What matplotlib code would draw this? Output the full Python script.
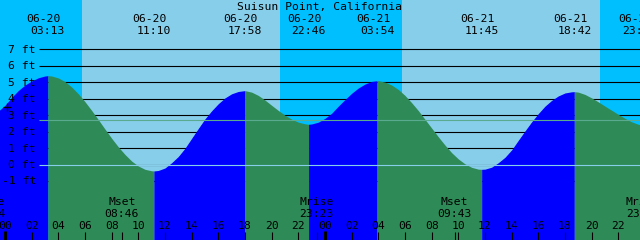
import numpy as np
import matplotlib
matplotlib.use("Agg")
import matplotlib.pyplot as plt

# Tide events (labels along the top)
tide_dates = ["06-20", "06-20", "06-20", "06-20", "06-21", "06-21", "06-21", "06-21"]
tide_times = ["03:13", "11:10", "17:58", "22:46", "03:54", "11:45", "18:42", "23:36"]
tide_ext_ft = [5.40, -0.38, 4.49, 2.45, 5.09, -0.28, 4.43, 2.43]

# Tide height, every half hour from 06-19 23:00 to 06-22 00:00
halfhour_ft = [
    2.95, 3.25, 3.60, 4.08, 4.50, 4.83, 5.08, 5.27,      # 23:00 - 02:30
    5.38, 5.38, 5.26, 5.04, 4.71, 4.30, 3.82, 3.29,      # 03:00 - 06:30
    2.73, 2.16, 1.60, 1.08, 0.62, 0.22, -0.08, -0.28,    # 07:00 - 10:30
    -0.37, -0.35, -0.20, 0.12, 0.50, 1.00, 1.60, 2.20,   # 11:00 - 14:30
    2.78, 3.27, 3.70, 4.05, 4.30, 4.44, 4.49, 4.40,      # 15:00 - 18:30
    4.20, 3.92, 3.60, 3.29, 3.00, 2.76, 2.58, 2.48,      # 19:00 - 22:30
    2.47, 2.58, 2.81, 3.12, 3.55, 3.95, 4.33, 4.65,      # 23:00 - 02:30
    4.89, 5.05, 5.09, 5.01, 4.83, 4.56, 4.20, 3.76,      # 03:00 - 06:30
    3.28, 2.75, 2.22, 1.69, 1.19, 0.73, 0.35, 0.05,      # 07:00 - 10:30
    -0.16, -0.27, -0.27, -0.15, 0.12, 0.45, 0.90, 1.48,  # 11:00 - 14:30
    2.05, 2.60, 3.10, 3.55, 3.90, 4.17, 4.35, 4.42,      # 15:00 - 18:30
    4.40, 4.26, 4.05, 3.81, 3.55, 3.30, 3.05, 2.81,      # 19:00 - 22:30
    2.60, 2.45, 2.44,                                    # 23:00 - 00:00
]

# Sun and moon
sunrise = ["05:46", "05:46"]
sunset = ["20:37", "20:37"]
moon_kind = ["Mrise", "Mset", "Mrise", "Mset", "Mrise"]
moon_time = ["22:44", "08:46", "23:23", "09:43", "23:51"]
moon_day = [-1, 0, 0, 1, 1]

ft_levels = [-1, 0, 1, 2, 3, 4, 5, 6, 7]
msl_ft = 2.71
title = "Suisun Point, California"

# colours
DAY = "#87CEEB"
NIGHT = "#00BFFF"
RISE = "#0000FF"
FALL = "#2E8B57"
MSL = "#5AAA90"

# pixel <-> data helpers (axes fill the whole 640x240 figure)
X0, PPH = 5.0, 13.333
Y0, PPF = 164.7, 16.49


def x_of(px):
    return (px - X0) / PPH


def y_of(py):
    return (Y0 - py) / PPF


def hrs(s, day=0):
    h, m = s.split(":")
    return day * 24 + int(h) + int(m) / 60


tide_day = [0 if d == "06-20" else 1 for d in tide_dates]
ext_h = [hrs(t, d) for t, d in zip(tide_times, tide_day)]

t = np.concatenate([np.arange(-1, 48.25, 0.5), ext_h])
h = np.concatenate([halfhour_ft, tide_ext_ft])
order = np.argsort(t, kind="stable")
t, h = t[order], h[order]

fig = plt.figure(figsize=(6.4, 2.4), dpi=100)
ax = fig.add_axes([0, 0, 1, 1])
ax.set_axis_off()
xmin, xmax = x_of(0), x_of(640)
ymin, ymax = y_of(240), y_of(0)
ax.set_xlim(xmin, xmax)
ax.set_ylim(ymin, ymax)

# day / night background
ax.axvspan(xmin, xmax, color=DAY, lw=0, zorder=0)
sr = [hrs(s, i) for i, s in enumerate(sunrise)]
ss = [hrs(s, i) for i, s in enumerate(sunset)]
edges = [xmin] + sorted(sr + ss) + [xmax]
for a, b in zip(edges[0::2], edges[1::2]):
    ax.axvspan(a, b, color=NIGHT, lw=0, zorder=0)

# foot lines (under the water)
for lv in ft_levels:
    ax.hlines(lv, x_of(39), xmax, color="black", lw=0.8, zorder=1)

# water: blue while rising, green while falling
bounds = [t[0]] + ext_h + [t[-1]]
for a, b in zip(bounds[:-1], bounds[1:]):
    m = (t >= a - 1e-9) & (t <= b + 1e-9)
    col = RISE if h[m][-1] > h[m][0] else FALL
    ax.fill_between(t[m], h[m], ymin, color=col, lw=0, zorder=2)

ax.hlines(0, x_of(39), xmax, color=DAY, lw=0.8, zorder=3)
ax.hlines(msl_ft, x_of(39), xmax, color=MSL, lw=0.8, zorder=3)

font = dict(family="DejaVu Sans Mono", fontsize=8.2, color="black", zorder=5)

for lv in ft_levels:
    ax.text(x_of(36), y_of(Y0 - lv * PPF + 3.3), f"{lv} ft",
            ha="right", va="baseline", **font)

ax.text(x_of(320), y_of(10), title, ha="center", va="baseline", **font)
for d, s, x in zip(tide_dates, tide_times, ext_h):
    ax.text(x - 4 / PPH, y_of(21.7), d, ha="center", va="baseline", **font)
    ax.text(x, y_of(34), s, ha="center", va="baseline", **font)

# time axis along the bottom
for hr in range(0, 48, 2):
    ax.text(hr, y_of(229.3), f"{hr % 24:02d}", ha="center", va="baseline", **font)
    if hr % 24 == 0:
        ax.vlines(hr, ymin, y_of(231), color="black", lw=2.2, zorder=4)
    else:
        ax.vlines(hr, ymin, y_of(232), color="black", lw=0.8, zorder=4)

for k, s, d in zip(moon_kind, moon_time, moon_day):
    x = hrs(s, d)
    ax.text(x, y_of(217.3), f"{k}\n{s}", ha="center", va="baseline",
            multialignment="center", linespacing=1.31, **font)
    ax.vlines(x, ymin, y_of(232), color="black", lw=0.8, zorder=4)

ax.plot(x_of(7), y_of(106.5), marker="+", ms=5.5, mew=0.9, color="black", zorder=5)

fig.savefig("out.png", dpi=100)
